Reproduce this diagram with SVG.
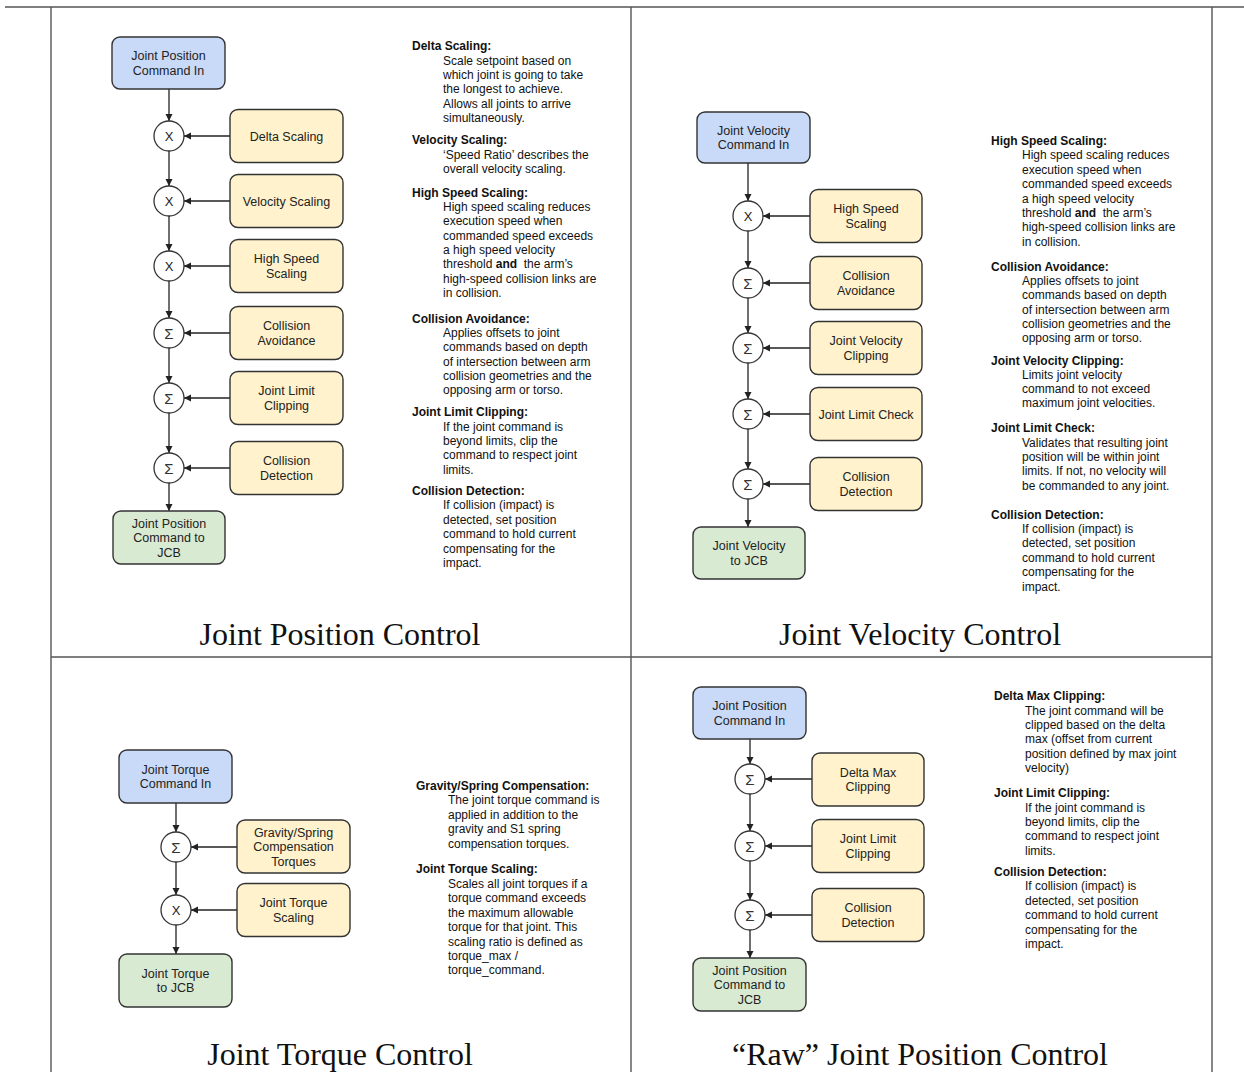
<svg xmlns="http://www.w3.org/2000/svg" width="1244" height="1072" viewBox="0 0 1244 1072">
<style>
.grid{stroke:#555;stroke-width:1.4;fill:none}
.in{fill:#c9daf8;stroke:#333;stroke-width:1.4}
.blk{fill:#fff2cc;stroke:#333;stroke-width:1.4}
.out{fill:#d9ead3;stroke:#333;stroke-width:1.4}
.op{fill:#fff;stroke:#333;stroke-width:1.3}
.lbl{font-family:"Liberation Sans",Arial,sans-serif;font-size:12.5px;fill:#222;text-anchor:middle}
.sym{font-family:"Liberation Sans",Arial,sans-serif;font-size:13px;fill:#222;text-anchor:middle}
.sig{font-family:"Liberation Sans",Arial,sans-serif;font-size:15px;fill:#333;text-anchor:middle}
.h{font-family:"Liberation Sans",Arial,sans-serif;font-size:12px;font-weight:bold;fill:#111}
.b{font-family:"Liberation Sans",Arial,sans-serif;font-size:12px;fill:#111}
.title{font-family:"Liberation Serif","Times New Roman",serif;font-size:32px;fill:#111;text-anchor:middle}
.c{stroke:#222;stroke-width:1.3;fill:none;marker-end:url(#ah)}
</style>
<defs>
<marker id="ah" markerUnits="userSpaceOnUse" markerWidth="8" markerHeight="8" refX="7" refY="3.5" orient="auto">
<path d="M0,0 L7,3.5 L0,7 z" fill="#222"/>
</marker>
</defs>
<rect width="1244" height="1072" fill="#fff"/>
<g id="table">
<line class="grid" x1="5" y1="7" x2="1244" y2="7"/>
<line class="grid" x1="51" y1="7" x2="51" y2="1072"/>
<line class="grid" x1="631" y1="7" x2="631" y2="1072"/>
<line class="grid" x1="1212" y1="7" x2="1212" y2="1072"/>
<line class="grid" x1="51" y1="657" x2="1212" y2="657"/>
</g>

<g id="connectors">
<path class="c" d="M169,89 V121"/>
<path class="c" d="M169,151 V186"/>
<path class="c" d="M169,216 V251"/>
<path class="c" d="M169,281 V318"/>
<path class="c" d="M169,348 V383"/>
<path class="c" d="M169,413 V453"/>
<path class="c" d="M169,483 V511"/>
<path class="c" d="M230,136 H184"/>
<path class="c" d="M230,201 H184"/>
<path class="c" d="M230,266 H184"/>
<path class="c" d="M230,333 H184"/>
<path class="c" d="M230,398 H184"/>
<path class="c" d="M230,468 H184"/>
<path class="c" d="M748,163 V201"/>
<path class="c" d="M748,231 V268"/>
<path class="c" d="M748,298 V333"/>
<path class="c" d="M748,363 V399"/>
<path class="c" d="M748,429 V469"/>
<path class="c" d="M748,499 V527"/>
<path class="c" d="M810,216 H763"/>
<path class="c" d="M810,283 H763"/>
<path class="c" d="M810,348 H763"/>
<path class="c" d="M810,414 H763"/>
<path class="c" d="M810,484 H763"/>
<path class="c" d="M176,803 V832"/>
<path class="c" d="M176,862 V895"/>
<path class="c" d="M176,925 V954"/>
<path class="c" d="M237,847 H191"/>
<path class="c" d="M237,910 H191"/>
<path class="c" d="M750,739 V764"/>
<path class="c" d="M750,794 V831"/>
<path class="c" d="M750,861 V900"/>
<path class="c" d="M750,930 V958"/>
<path class="c" d="M812,779 H765"/>
<path class="c" d="M812,846 H765"/>
<path class="c" d="M812,915 H765"/>
</g>

<g id="p1-in"><rect class="in" x="112" y="37" width="113" height="52" rx="8"/><text class="lbl" x="168.5" y="60.3">Joint Position</text><text class="lbl" x="168.5" y="74.8">Command In</text></g>
<g id="p1-op1"><circle class="op" cx="169" cy="136" r="15"/><text class="sym" x="169" y="140.5">X</text></g>
<g id="p1-op2"><circle class="op" cx="169" cy="201" r="15"/><text class="sym" x="169" y="205.5">X</text></g>
<g id="p1-op3"><circle class="op" cx="169" cy="266" r="15"/><text class="sym" x="169" y="270.5">X</text></g>
<g id="p1-op4"><circle class="op" cx="169" cy="333" r="15"/><text class="sig" x="169" y="338.5">Σ</text></g>
<g id="p1-op5"><circle class="op" cx="169" cy="398" r="15"/><text class="sig" x="169" y="403.5">Σ</text></g>
<g id="p1-op6"><circle class="op" cx="169" cy="468" r="15"/><text class="sig" x="169" y="473.5">Σ</text></g>
<g id="p1-delta"><rect class="blk" x="230" y="109.5" width="113" height="53" rx="8"/><text class="lbl" x="286.5" y="140.5">Delta Scaling</text></g>
<g id="p1-vel"><rect class="blk" x="230" y="174.5" width="113" height="53" rx="8"/><text class="lbl" x="286.5" y="205.5">Velocity Scaling</text></g>
<g id="p1-hss"><rect class="blk" x="230" y="239.5" width="113" height="53" rx="8"/><text class="lbl" x="286.5" y="263.3">High Speed</text><text class="lbl" x="286.5" y="277.8">Scaling</text></g>
<g id="p1-ca"><rect class="blk" x="230" y="306.5" width="113" height="53" rx="8"/><text class="lbl" x="286.5" y="330.3">Collision</text><text class="lbl" x="286.5" y="344.8">Avoidance</text></g>
<g id="p1-jlc"><rect class="blk" x="230" y="371.5" width="113" height="53" rx="8"/><text class="lbl" x="286.5" y="395.3">Joint Limit</text><text class="lbl" x="286.5" y="409.8">Clipping</text></g>
<g id="p1-cd"><rect class="blk" x="230" y="441.5" width="113" height="53" rx="8"/><text class="lbl" x="286.5" y="465.3">Collision</text><text class="lbl" x="286.5" y="479.8">Detection</text></g>
<g id="p1-out"><rect class="out" x="113" y="511" width="112" height="53" rx="8"/><text class="lbl" x="169" y="527.5">Joint Position</text><text class="lbl" x="169" y="542">Command to</text><text class="lbl" x="169" y="556.5">JCB</text></g>
<g id="p1-text">
<text class="h" x="412" y="49.5">Delta Scaling:</text>
<text class="b" x="443" y="64.5">Scale setpoint based on</text>
<text class="b" x="443" y="78.9">which joint is going to take</text>
<text class="b" x="443" y="93.3">the longest to achieve.</text>
<text class="b" x="443" y="107.7">Allows all joints to arrive</text>
<text class="b" x="443" y="122.1">simultaneously.</text>
<text class="h" x="412" y="143.5">Velocity Scaling:</text>
<text class="b" x="443" y="158.5">‘Speed Ratio’ describes the</text>
<text class="b" x="443" y="172.9">overall velocity scaling.</text>
<text class="h" x="412" y="196.5">High Speed Scaling:</text>
<text class="b" x="443" y="210.7">High speed scaling reduces</text>
<text class="b" x="443" y="225.1">execution speed when</text>
<text class="b" x="443" y="239.5">commanded speed exceeds</text>
<text class="b" x="443" y="253.9">a high speed velocity</text>
<text class="b" x="443" y="268.3">threshold <tspan font-weight="bold">and</tspan>&#160; the arm’s</text>
<text class="b" x="443" y="282.7">high-speed collision links are</text>
<text class="b" x="443" y="297.1">in collision.</text>
<text class="h" x="412" y="322.5">Collision Avoidance:</text>
<text class="b" x="443" y="336.7">Applies offsets to joint</text>
<text class="b" x="443" y="351.1">commands based on depth</text>
<text class="b" x="443" y="365.5">of intersection between arm</text>
<text class="b" x="443" y="379.9">collision geometries and the</text>
<text class="b" x="443" y="394.3">opposing arm or torso.</text>
<text class="h" x="412" y="415.5">Joint Limit Clipping:</text>
<text class="b" x="443" y="430.5">If the joint command is</text>
<text class="b" x="443" y="444.9">beyond limits, clip the</text>
<text class="b" x="443" y="459.3">command to respect joint</text>
<text class="b" x="443" y="473.7">limits.</text>
<text class="h" x="412" y="494.5">Collision Detection:</text>
<text class="b" x="443" y="509.3">If collision (impact) is</text>
<text class="b" x="443" y="523.7">detected, set position</text>
<text class="b" x="443" y="538.1">command to hold current</text>
<text class="b" x="443" y="552.5">compensating for the</text>
<text class="b" x="443" y="566.9">impact.</text>
</g>
<text class="title" x="340" y="645">Joint Position Control</text>

<g id="p2-in"><rect class="in" x="697" y="112" width="113" height="51" rx="8"/><text class="lbl" x="753.5" y="134.8">Joint Velocity</text><text class="lbl" x="753.5" y="149.3">Command In</text></g>
<g id="p2-op1"><circle class="op" cx="748" cy="216" r="15"/><text class="sym" x="748" y="220.5">X</text></g>
<g id="p2-op2"><circle class="op" cx="748" cy="283" r="15"/><text class="sig" x="748" y="288.5">Σ</text></g>
<g id="p2-op3"><circle class="op" cx="748" cy="348" r="15"/><text class="sig" x="748" y="353.5">Σ</text></g>
<g id="p2-op4"><circle class="op" cx="748" cy="414" r="15"/><text class="sig" x="748" y="419.5">Σ</text></g>
<g id="p2-op5"><circle class="op" cx="748" cy="484" r="15"/><text class="sig" x="748" y="489.5">Σ</text></g>
<g id="p2-hss"><rect class="blk" x="810" y="189.5" width="112" height="53" rx="8"/><text class="lbl" x="866" y="213.3">High Speed</text><text class="lbl" x="866" y="227.8">Scaling</text></g>
<g id="p2-ca"><rect class="blk" x="810" y="256.5" width="112" height="53" rx="8"/><text class="lbl" x="866" y="280.3">Collision</text><text class="lbl" x="866" y="294.8">Avoidance</text></g>
<g id="p2-jvc"><rect class="blk" x="810" y="321.5" width="112" height="53" rx="8"/><text class="lbl" x="866" y="345.3">Joint Velocity</text><text class="lbl" x="866" y="359.8">Clipping</text></g>
<g id="p2-jlc"><rect class="blk" x="810" y="387.5" width="112" height="53" rx="8"/><text class="lbl" x="866" y="418.5">Joint Limit Check</text></g>
<g id="p2-cd"><rect class="blk" x="810" y="457.5" width="112" height="53" rx="8"/><text class="lbl" x="866" y="481.3">Collision</text><text class="lbl" x="866" y="495.8">Detection</text></g>
<g id="p2-out"><rect class="out" x="693" y="527" width="112" height="52" rx="8"/><text class="lbl" x="749" y="550.3">Joint Velocity</text><text class="lbl" x="749" y="564.8">to JCB</text></g>
<g id="p2-text">
<text class="h" x="991" y="144.5">High Speed Scaling:</text>
<text class="b" x="1022" y="159.3">High speed scaling reduces</text>
<text class="b" x="1022" y="173.7">execution speed when</text>
<text class="b" x="1022" y="188.1">commanded speed exceeds</text>
<text class="b" x="1022" y="202.5">a high speed velocity</text>
<text class="b" x="1022" y="216.9">threshold <tspan font-weight="bold">and</tspan>&#160; the arm’s</text>
<text class="b" x="1022" y="231.3">high-speed collision links are</text>
<text class="b" x="1022" y="245.7">in collision.</text>
<text class="h" x="991" y="270.5">Collision Avoidance:</text>
<text class="b" x="1022" y="284.7">Applies offsets to joint</text>
<text class="b" x="1022" y="299.1">commands based on depth</text>
<text class="b" x="1022" y="313.5">of intersection between arm</text>
<text class="b" x="1022" y="327.9">collision geometries and the</text>
<text class="b" x="1022" y="342.3">opposing arm or torso.</text>
<text class="h" x="991" y="364.5">Joint Velocity Clipping:</text>
<text class="b" x="1022" y="378.5">Limits joint velocity</text>
<text class="b" x="1022" y="392.9">command to not exceed</text>
<text class="b" x="1022" y="407.3">maximum joint velocities.</text>
<text class="h" x="991" y="432">Joint Limit Check:</text>
<text class="b" x="1022" y="446.5">Validates that resulting joint</text>
<text class="b" x="1022" y="460.9">position will be within joint</text>
<text class="b" x="1022" y="475.3">limits. If not, no velocity will</text>
<text class="b" x="1022" y="489.7">be commanded to any joint.</text>
<text class="h" x="991" y="518.5">Collision Detection:</text>
<text class="b" x="1022" y="532.9">If collision (impact) is</text>
<text class="b" x="1022" y="547.3">detected, set position</text>
<text class="b" x="1022" y="561.7">command to hold current</text>
<text class="b" x="1022" y="576.1">compensating for the</text>
<text class="b" x="1022" y="590.5">impact.</text>
</g>
<text class="title" x="920" y="645">Joint Velocity Control</text>

<g id="p3-in"><rect class="in" x="119" y="750" width="113" height="53" rx="8"/><text class="lbl" x="175.5" y="773.8">Joint Torque</text><text class="lbl" x="175.5" y="788.3">Command In</text></g>
<g id="p3-op1"><circle class="op" cx="176" cy="847" r="15"/><text class="sig" x="176" y="852.5">Σ</text></g>
<g id="p3-op2"><circle class="op" cx="176" cy="910" r="15"/><text class="sym" x="176" y="914.5">X</text></g>
<g id="p3-grav"><rect class="blk" x="237" y="820" width="113" height="53" rx="8"/><text class="lbl" x="293.5" y="836.5">Gravity/Spring</text><text class="lbl" x="293.5" y="851">Compensation</text><text class="lbl" x="293.5" y="865.5">Torques</text></g>
<g id="p3-jts"><rect class="blk" x="237" y="883.5" width="113" height="53" rx="8"/><text class="lbl" x="293.5" y="907.3">Joint Torque</text><text class="lbl" x="293.5" y="921.8">Scaling</text></g>
<g id="p3-out"><rect class="out" x="119" y="954" width="113" height="53" rx="8"/><text class="lbl" x="175.5" y="977.8">Joint Torque</text><text class="lbl" x="175.5" y="992.3">to JCB</text></g>
<g id="p3-text">
<text class="h" x="416" y="789.5">Gravity/Spring Compensation:</text>
<text class="b" x="448" y="804.3">The joint torque command is</text>
<text class="b" x="448" y="818.7">applied in addition to the</text>
<text class="b" x="448" y="833.1">gravity and S1 spring</text>
<text class="b" x="448" y="847.5">compensation torques.</text>
<text class="h" x="416" y="873">Joint Torque Scaling:</text>
<text class="b" x="448" y="888">Scales all joint torques if a</text>
<text class="b" x="448" y="902.4">torque command exceeds</text>
<text class="b" x="448" y="916.8">the maximum allowable</text>
<text class="b" x="448" y="931.2">torque for that joint. This</text>
<text class="b" x="448" y="945.6">scaling ratio is defined as</text>
<text class="b" x="448" y="960">torque_max /</text>
<text class="b" x="448" y="974.4">torque_command.</text>
</g>
<text class="title" x="340" y="1065">Joint Torque Control</text>

<g id="p4-in"><rect class="in" x="693" y="687" width="113" height="52" rx="8"/><text class="lbl" x="749.5" y="710.3">Joint Position</text><text class="lbl" x="749.5" y="724.8">Command In</text></g>
<g id="p4-op1"><circle class="op" cx="750" cy="779" r="15"/><text class="sig" x="750" y="784.5">Σ</text></g>
<g id="p4-op2"><circle class="op" cx="750" cy="846" r="15"/><text class="sig" x="750" y="851.5">Σ</text></g>
<g id="p4-op3"><circle class="op" cx="750" cy="915" r="15"/><text class="sig" x="750" y="920.5">Σ</text></g>
<g id="p4-dmc"><rect class="blk" x="812" y="753" width="112" height="53" rx="8"/><text class="lbl" x="868" y="776.8">Delta Max</text><text class="lbl" x="868" y="791.3">Clipping</text></g>
<g id="p4-jlc"><rect class="blk" x="812" y="819.5" width="112" height="53" rx="8"/><text class="lbl" x="868" y="843.3">Joint Limit</text><text class="lbl" x="868" y="857.8">Clipping</text></g>
<g id="p4-cd"><rect class="blk" x="812" y="888.5" width="112" height="53" rx="8"/><text class="lbl" x="868" y="912.3">Collision</text><text class="lbl" x="868" y="926.8">Detection</text></g>
<g id="p4-out"><rect class="out" x="693" y="958" width="113" height="53" rx="8"/><text class="lbl" x="749.5" y="974.5">Joint Position</text><text class="lbl" x="749.5" y="989">Command to</text><text class="lbl" x="749.5" y="1003.5">JCB</text></g>
<g id="p4-text">
<text class="h" x="994" y="700">Delta Max Clipping:</text>
<text class="b" x="1025" y="714.5">The joint command will be</text>
<text class="b" x="1025" y="728.9">clipped based on the delta</text>
<text class="b" x="1025" y="743.3">max (offset from current</text>
<text class="b" x="1025" y="757.7">position defined by max joint</text>
<text class="b" x="1025" y="772.1">velocity)</text>
<text class="h" x="994" y="797">Joint Limit Clipping:</text>
<text class="b" x="1025" y="811.5">If the joint command is</text>
<text class="b" x="1025" y="825.9">beyond limits, clip the</text>
<text class="b" x="1025" y="840.3">command to respect joint</text>
<text class="b" x="1025" y="854.7">limits.</text>
<text class="h" x="994" y="875.5">Collision Detection:</text>
<text class="b" x="1025" y="890.3">If collision (impact) is</text>
<text class="b" x="1025" y="904.7">detected, set position</text>
<text class="b" x="1025" y="919.1">command to hold current</text>
<text class="b" x="1025" y="933.5">compensating for the</text>
<text class="b" x="1025" y="947.9">impact.</text>
</g>
<text class="title" x="920" y="1065">“Raw” Joint Position Control</text>
</svg>
